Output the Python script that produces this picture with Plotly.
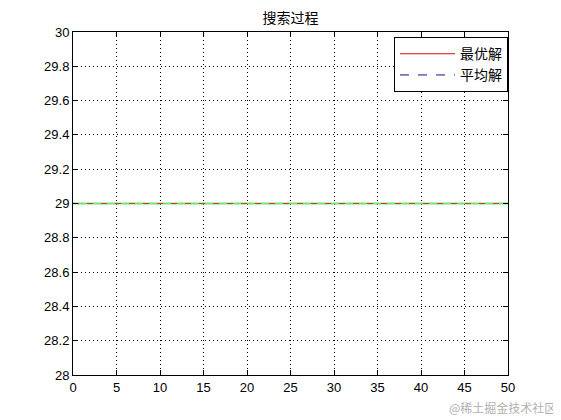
import plotly.graph_objects as go

# data
iters = list(range(0, 51))
best_vals = [29.0] * len(iters)
mean_vals = [29.0] * len(iters)
x_ticks = list(range(0, 51, 5))
y_ticks = [28, 28.2, 28.4, 28.6, 28.8, 29, 29.2, 29.4, 29.6, 29.8, 30]
y_labels = ["28", "28.2", "28.4", "28.6", "28.8", "29", "29.2", "29.4", "29.6", "29.8", "30"]

fig = go.Figure()
fig.add_trace(go.Scatter(x=iters, y=best_vals, mode="lines", name="最优解",
                         line=dict(color="#d01010", width=1)))
fig.add_trace(go.Scatter(x=iters, y=mean_vals, mode="lines", name="平均解",
                         line=dict(color="#101080", width=1, dash="dash")))
# what actually shows on the plot: green line with reddish dashes on top
fig.add_trace(go.Scatter(x=iters, y=best_vals, mode="lines", showlegend=False,
                         line=dict(color="#77e077", width=2)))
fig.add_trace(go.Scatter(x=iters, y=mean_vals, mode="lines", showlegend=False,
                         line=dict(color="#c04a20", width=1.2, dash="6px,8px")))

axis_style = dict(
    showline=True, linecolor="black", linewidth=1, mirror="ticks",
    ticks="inside", ticklen=5, tickcolor="black",
    showgrid=True, gridcolor="black", griddash="1px,3px", gridwidth=1,
    zeroline=False, tickfont=dict(family="Liberation Sans, Arial", size=13, color="black"),
)

fig.update_xaxes(range=[0, 50], tickvals=x_ticks, **axis_style)
fig.update_yaxes(range=[28, 30], tickvals=y_ticks, ticktext=y_labels, **axis_style)

fig.update_layout(
    width=561, height=420,
    margin=dict(l=65, r=61, t=24, b=53, autoexpand=False),
    paper_bgcolor="white", plot_bgcolor="white",
    title=dict(text="搜索过程", xref="paper", x=0.5, xanchor="center",
               y=0.975, yanchor="middle",
               font=dict(family="Noto Sans CJK SC", size=14, color="black")),
    font=dict(family="Noto Sans CJK SC", size=14, color="black"),
    legend=dict(x=1, xanchor="right", y=0.985, yanchor="top",
                bgcolor="white", bordercolor="black", borderwidth=1,
                font=dict(family="Noto Sans CJK SC", size=14),
                tracegroupgap=0, itemwidth=55),
    showlegend=True,
    annotations=[dict(text="@稀土掘金技术社区", xref="paper", yref="paper",
                      x=1.115, y=-0.096, xanchor="right", yanchor="middle", showarrow=False,
                      font=dict(family="Noto Sans CJK SC", size=12, color="#b0b0b0"))],
)

fig.write_html("out.html")
